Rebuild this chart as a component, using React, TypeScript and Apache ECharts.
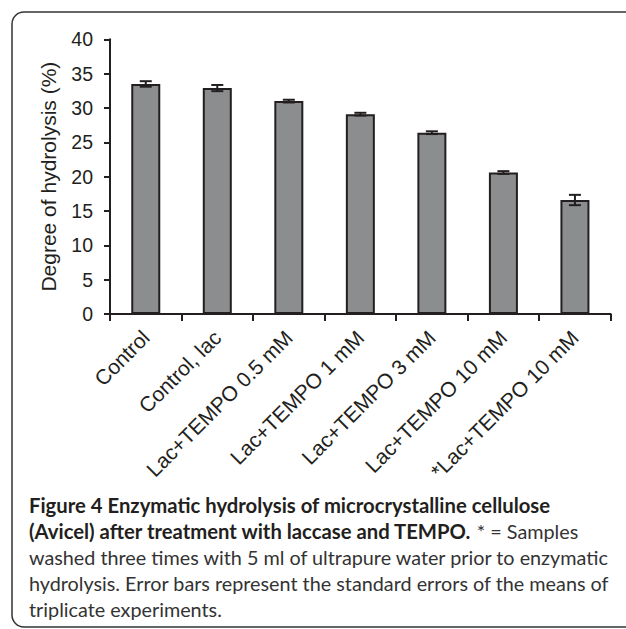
import React, { useEffect, useRef } from "react";
import * as echarts from "echarts";

const categories = [
  "Control",
  "Control, lac",
  "Lac+TEMPO 0.5 mM",
  "Lac+TEMPO 1 mM",
  "Lac+TEMPO 3 mM",
  "Lac+TEMPO 10 mM",
  "*Lac+TEMPO 10 mM",
];
const hydrolysis = [33.5, 32.9, 31.0, 29.1, 26.4, 20.6, 16.6];
const stdErrors = [0.4, 0.45, 0.2, 0.2, 0.2, 0.2, 0.75];
const yTicks = [0, 5, 10, 15, 20, 25, 30, 35, 40];

const captionLines = [
  { bold: "Figure 4 Enzymatic hydrolysis of microcrystalline cellulose", normal: "" },
  { bold: "(Avicel) after treatment with laccase and TEMPO.", normal: " * = Samples" },
  { bold: "", normal: "washed three times with 5 ml of ultrapure water prior to enzymatic" },
  { bold: "", normal: "hydrolysis. Error bars represent the standard errors of the means of" },
  { bold: "", normal: "triplicate experiments." },
];

const INK = "#231f20";
const AXIS_FONT = "'Liberation Sans', Arial, sans-serif";

export default function App() {
  const ref = useRef<HTMLDivElement>(null);
  useEffect(() => {
    if (!ref.current) return;
    const chart = echarts.init(ref.current, null, { renderer: "svg" });
    const errData = hydrolysis.map((v, i) => [i, v - stdErrors[i], v + stdErrors[i]]);
    const capFont = "Lato, 'Open Sans', sans-serif";
    const captionGraphics = captionLines.map((ln, i) => ({
      type: "text",
      left: 29,
      top: 495 + i * 26,
      style: {
        text:
          (ln.bold ? "{b|" + ln.bold + "}" : "") + (ln.normal ? "{n|" + ln.normal + "}" : ""),
        rich: {
          b: { fontFamily: capFont, fontWeight: "bold", fontSize: 20.3, fill: INK },
          n: { fontFamily: capFont, fontWeight: "normal", fontSize: 19.8, fill: "#333" },
        },
      },
    }));
    chart.setOption({
      animation: false,
      backgroundColor: "#fff",
      graphic: [
        {
          type: "rect",
          shape: { x: 12, y: 12, width: 700, height: 615, r: 12 },
          style: { fill: "none", stroke: "#333", lineWidth: 1.5 },
          silent: true,
        },
        ...captionGraphics,
      ],
      grid: { left: 110, right: 15.3, top: 39.3, bottom: 315, containLabel: false },
      xAxis: {
        type: "category",
        data: categories,
        axisLine: { lineStyle: { color: INK, width: 2 } },
        axisTick: { show: true, length: 7, lineStyle: { color: INK, width: 2 }, alignWithLabel: false },
        axisLabel: {
          interval: 0,
          rotate: 45,
          fontSize: 21,
          color: INK,
          fontFamily: AXIS_FONT,
          margin: 20,
        },
      },
      yAxis: {
        type: "value",
        min: 0,
        max: 40,
        interval: 5,
        name: "Degree of hydrolysis (%)",
        nameLocation: "middle",
        nameRotate: 90,
        nameGap: 51,
        nameTextStyle: { fontSize: 21, color: INK, fontFamily: AXIS_FONT },
        axisLine: { show: true, lineStyle: { color: INK, width: 2 } },
        axisTick: { show: true, length: 6, lineStyle: { color: INK, width: 2 } },
        splitLine: { show: false },
        axisLabel: {
          fontSize: 19.5,
          color: INK,
          fontFamily: AXIS_FONT,
          margin: 17,
          formatter: (v: number) => (yTicks.includes(v) ? String(v) : ""),
        },
      },
      series: [
        {
          type: "bar",
          data: hydrolysis,
          barWidth: 29,
          itemStyle: { color: "#8c8d8f", borderColor: INK, borderWidth: 2 },
        },
        {
          type: "custom",
          data: errData,
          z: 10,
          renderItem: (params: any, api: any) => {
            const x = api.coord([api.value(0), 0])[0];
            const lo = api.coord([api.value(0), api.value(1)])[1];
            const hi = api.coord([api.value(0), api.value(2)])[1];
            const hw = 6;
            const st = { stroke: INK, lineWidth: 2 };
            return {
              type: "group",
              children: [
                { type: "line", shape: { x1: x, y1: lo, x2: x, y2: hi }, style: st },
                { type: "line", shape: { x1: x - hw, y1: lo, x2: x + hw, y2: lo }, style: st },
                { type: "line", shape: { x1: x - hw, y1: hi, x2: x + hw, y2: hi }, style: st },
              ],
            };
          },
        },
      ],
    });
    return () => chart.dispose();
  }, []);
  return (
    <div
      ref={ref}
      style={{ position: "absolute", left: 0, top: 0, width: 626, height: 629 }}
    />
  );
}
